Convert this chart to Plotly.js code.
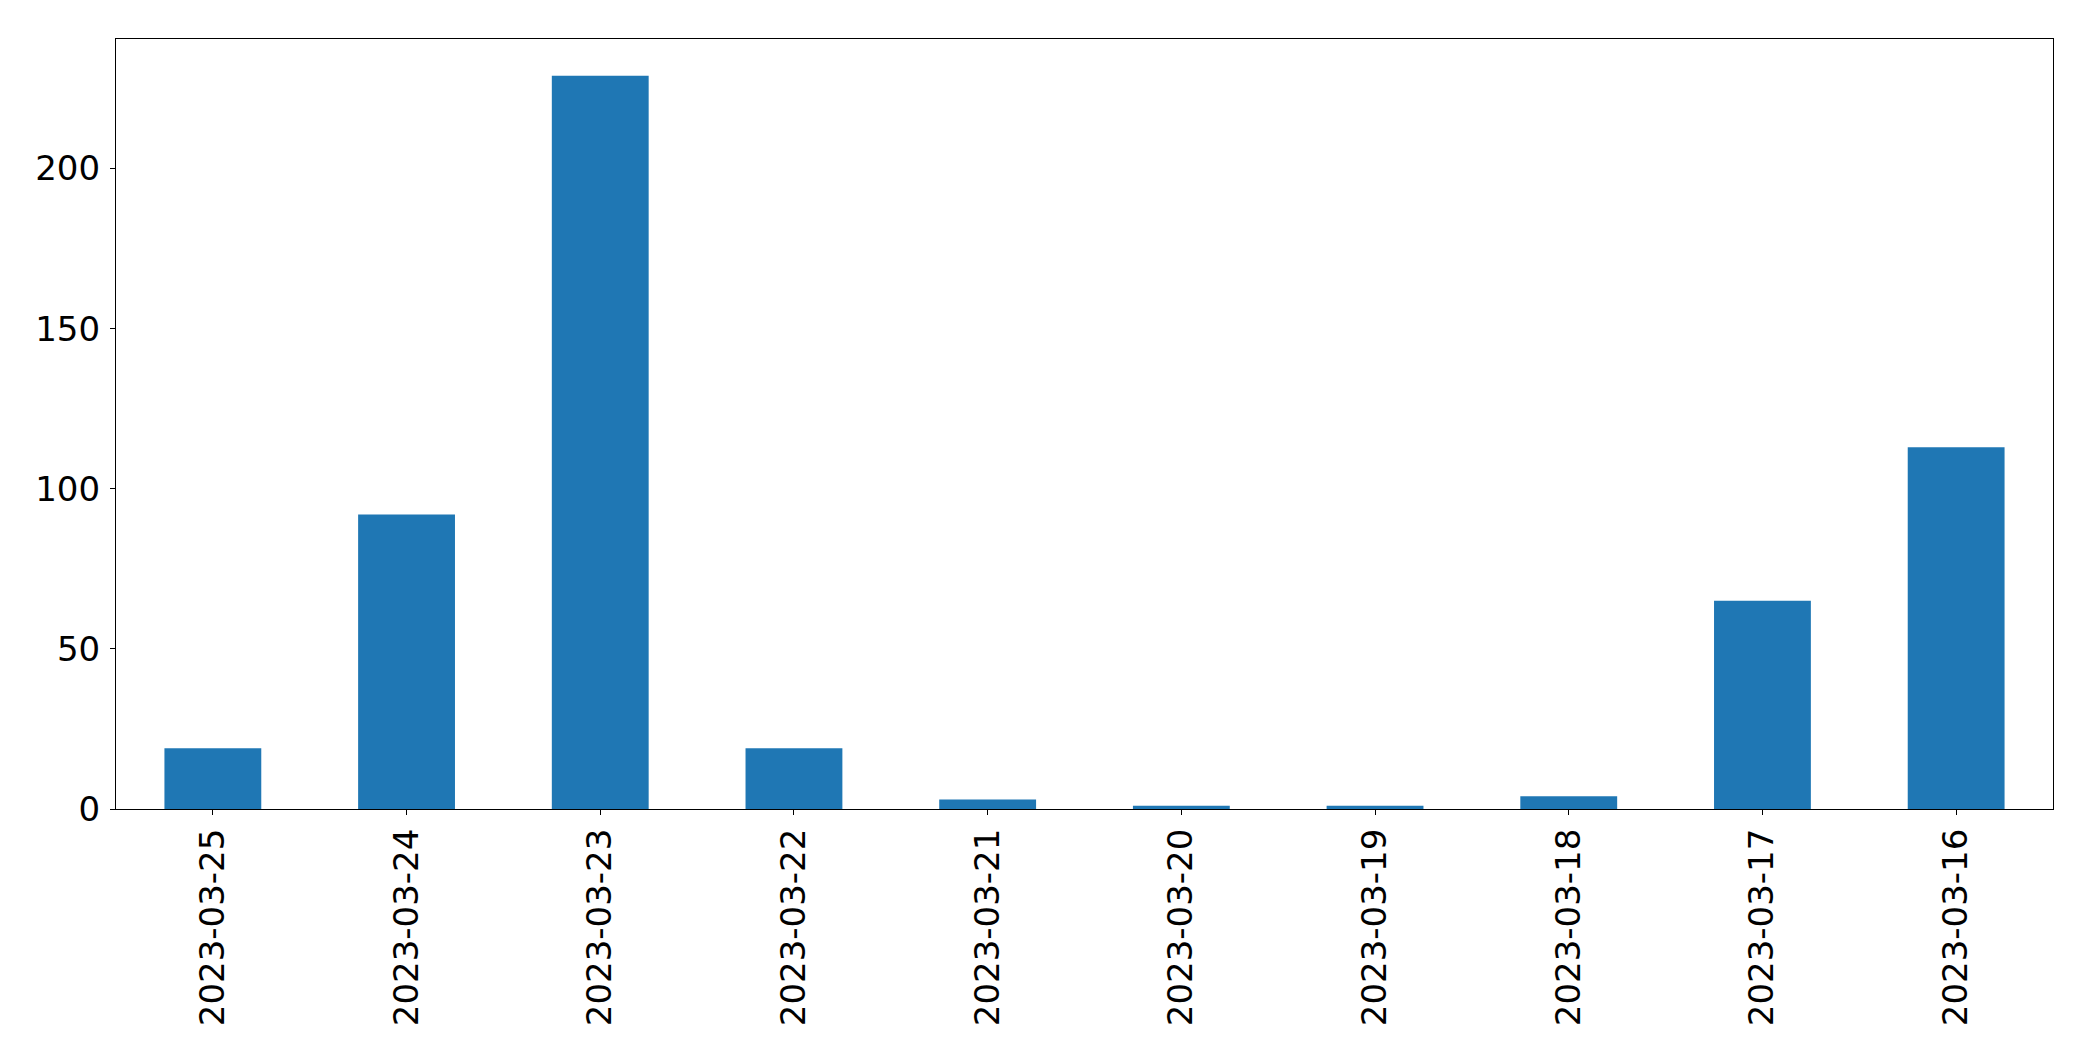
<!DOCTYPE html>
<html>
<head>
<meta charset="utf-8">
<script src="https://cdn.plot.ly/plotly-3.0.1.min.js"></script>
<style>
  html, body { margin: 0; padding: 0; background: #ffffff; }
  #chart { width: 2093px; height: 1061px; }
</style>
</head>
<body>
<div id="chart"></div>
<script>
const dates = ["2023-03-25", "2023-03-24", "2023-03-23", "2023-03-22", "2023-03-21",
               "2023-03-20", "2023-03-19", "2023-03-18", "2023-03-17", "2023-03-16"];
const counts = [19, 92, 229, 19, 3, 1, 1, 4, 65, 113];
const yTicks = [0, 50, 100, 150, 200];

const trace = {
  type: "bar",
  x: dates,
  y: counts,
  marker: { color: "#1f77b4", line: { width: 0 } },
  hoverinfo: "x+y"
};

const font = { family: "DejaVu Sans, sans-serif", size: 34, color: "#000000" };

const layout = {
  width: 2093,
  height: 1061,
  margin: { l: 116, r: 40, t: 39, b: 252, pad: 0 },
  paper_bgcolor: "#ffffff",
  plot_bgcolor: "#ffffff",
  showlegend: false,
  bargap: 0.5,
  font: font,
  xaxis: {
    type: "category",
    categoryorder: "array",
    categoryarray: dates,
    range: [-0.5, dates.length - 0.5],
    tickangle: -90,
    ticks: "outside",
    ticklen: 5,
    tickwidth: 1.1,
    tickcolor: "#000000",
    showline: true,
    linecolor: "#000000",
    linewidth: 1.1,
    mirror: true,
    showgrid: false,
    zeroline: false,
    tickfont: font,
    ticklabelstandoff: 0
  },
  yaxis: {
    range: [0, 229 * 1.05],
    tickmode: "array",
    tickvals: yTicks,
    ticktext: yTicks.map(String),
    ticks: "outside",
    ticklen: 5,
    tickwidth: 1.1,
    tickcolor: "#000000",
    showline: true,
    linecolor: "#000000",
    linewidth: 1.1,
    mirror: true,
    showgrid: false,
    zeroline: false,
    tickfont: font,
    ticklabelstandoff: 3
  }
};

Plotly.newPlot("chart", [trace], layout, { displayModeBar: false, responsive: false });
</script>
</body>
</html>
